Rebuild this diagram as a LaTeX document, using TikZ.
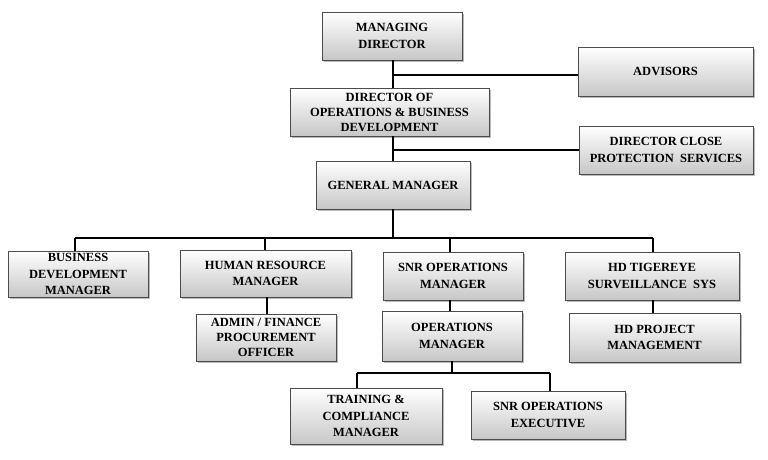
\documentclass[tikz,border=0pt]{standalone}
\usepackage{fontspec}
\setmainfont{Liberation Serif}[BoldFont={Liberation Serif Bold}]
\newfontfamily\boxfont{Liberation Serif Bold}
\usetikzlibrary{shadows}
\begin{document}
\begin{tikzpicture}[x=1pt,y=-1pt,
  box/.style={draw=black!70, line width=0.8pt, top color=white, bottom color=black!22,
    drop shadow={shadow xshift=2pt, shadow yshift=-2pt, fill=black!45, opacity=0.6},
    align=center, font=\boxfont\fontsize{12.5}{16.5}\selectfont, inner sep=2pt},
  tight/.style={font=\boxfont\fontsize{12.5}{15}\selectfont},
  link/.style={line width=1.8pt, black}]
\useasboundingbox (0,0) rectangle (768,460);
\fill[white] (0,0) rectangle (768,460);
% nodes
\node[box, minimum width=140pt, minimum height=48pt] (md)  at (392,36)    {MANAGING\\DIRECTOR};
\node[box, minimum width=175pt, minimum height=49pt] (adv) at (665.5,71.5) {ADVISORS};
\node[box, tight, minimum width=199pt, minimum height=48pt] (dop) at (389.5,112) {DIRECTOR OF\\OPERATIONS \& BUSINESS\\DEVELOPMENT};
\node[box, minimum width=174pt, minimum height=48pt] (dcp) at (666,150)   {DIRECTOR CLOSE\\PROTECTION\ \ SERVICES};
\node[box, minimum width=154pt, minimum height=48pt] (gm)  at (393,185)   {GENERAL MANAGER};
\node[box, minimum width=140pt, minimum height=46pt] (bdm) at (78,274)    {BUSINESS\\DEVELOPMENT\\MANAGER};
\node[box, minimum width=171pt, minimum height=47pt] (hr)  at (265.5,273.5) {HUMAN RESOURCE\\MANAGER};
\node[box, tight, minimum width=140pt, minimum height=47pt] (adm) at (266,337.5) {ADMIN / FINANCE\\PROCUREMENT\\OFFICER};
\node[box, minimum width=140pt, minimum height=48pt] (snr) at (453,276)   {SNR OPERATIONS\\MANAGER};
\node[box, minimum width=140pt, minimum height=50pt] (ops) at (452,336)   {OPERATIONS\\MANAGER};
\node[box, minimum width=174pt, minimum height=48pt] (hdt) at (652,276)   {HD TIGEREYE\\SURVEILLANCE\ \ SYS};
\node[box, minimum width=171pt, minimum height=49pt] (hdp) at (654.5,337.5) {HD PROJECT\\MANAGEMENT};
\node[box, minimum width=152pt, minimum height=56pt] (trn) at (366,416)   {TRAINING \&\\COMPLIANCE\\MANAGER};
\node[box, minimum width=154pt, minimum height=48pt] (exe) at (548,415)   {SNR OPERATIONS\\EXECUTIVE};
% connectors
\coordinate (spine) at (393,0);
\coordinate (busy) at (0,238);
\draw[link] (spine |- md.south) -- (spine |- dop.north);
\draw[link] (adv.west |- 0,75) -- (spine |- 0,75);
\draw[link] (spine |- dop.south) -- (spine |- gm.north);
\draw[link] (dcp.west |- 0,150) -- (spine |- 0,150);
\draw[link] (spine |- gm.south) -- (spine |- busy);
\draw[link] (75,238) -- (653,238);
\draw[link] (75,238) -- (75,0 |- bdm.north);
\draw[link] (265,238) -- (265,0 |- hr.north);
\draw[link] (450,238) -- (450,0 |- snr.north);
\draw[link] (653,238) -- (653,0 |- hdt.north);
\draw[link] (267,0 |- hr.south) -- (267,0 |- adm.north);
\draw[link] (450,0 |- snr.south) -- (450,0 |- ops.north);
\draw[link] (653,0 |- hdt.south) -- (653,0 |- hdp.north);
\draw[link] (452,0 |- ops.south) -- (452,373);
\draw[link] (357,373) -- (550,373);
\draw[link] (357,373) -- (357,0 |- trn.north);
\draw[link] (550,373) -- (550,0 |- exe.north);
\end{tikzpicture}
\end{document}
